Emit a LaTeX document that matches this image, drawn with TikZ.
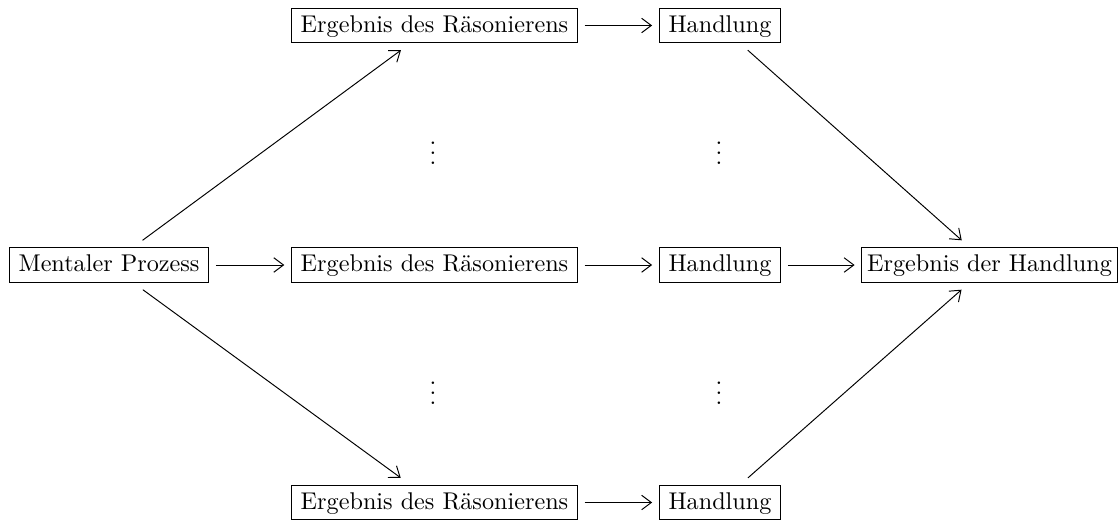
\documentclass[tikz,border=0pt]{standalone}
\usetikzlibrary{arrows.meta}
\begin{document}
\begin{tikzpicture}[x=0.4132pt,y=-0.4132pt,
  box/.style={draw,line width=0.4pt,inner xsep=3.8pt,inner ysep=2.3pt,
              text height=7.6pt,text depth=2.2pt,outer sep=3pt},
  arr/.style={line width=0.4pt,-{Straight Barb[length=4pt,width=6pt]}},
  vdotsnode/.style={inner sep=0pt,anchor=base}]
\useasboundingbox (0,0) rectangle (1118,522);

% first column: the mental process
\node[box] (mp) at (109,265) {Mentaler Prozess};

% three outcomes of the reasoning
\node[box] (e1) at (434.5,25.5) {Ergebnis des Räsonierens};
\node[box] (e2) at (434.5,265)  {Ergebnis des Räsonierens};
\node[box] (e3) at (434.5,502.5) {Ergebnis des Räsonierens};

% the corresponding actions
\node[box] (h1) at (720,25.5)  {Handlung};
\node[box] (h2) at (720,265)   {Handlung};
\node[box] (h3) at (720,502.5) {Handlung};

% result of the action
\node[box,inner xsep=2.2pt] (eh) at (989.5,265) {Ergebnis der Handlung};

% elided rows
\node[vdotsnode] (d1) at (433,164) {\vdots};
\node[vdotsnode] (d2) at (719,164) {\vdots};
\node[vdotsnode] (d3) at (433,404) {\vdots};
\node[vdotsnode] (d4) at (719,404) {\vdots};

% connectors
\draw[arr] (mp) -- (e1);
\draw[arr] (mp) -- (e2);
\draw[arr] (mp) -- (e3);
\draw[arr] (e1) -- (h1);
\draw[arr] (e2) -- (h2);
\draw[arr] (e3) -- (h3);
\draw[arr] (h1) -- (eh);
\draw[arr] (h2) -- (eh);
\draw[arr] (h3) -- (eh);
\end{tikzpicture}
\end{document}
